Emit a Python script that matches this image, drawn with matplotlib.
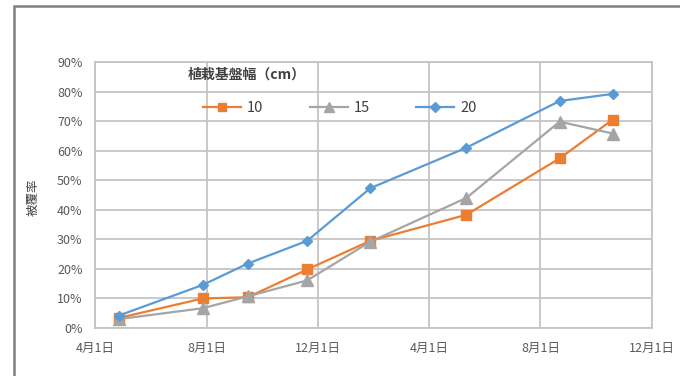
from datetime import datetime
import matplotlib
matplotlib.use('Agg')
import matplotlib.pyplot as plt
from matplotlib.patches import Rectangle
from matplotlib.ticker import FuncFormatter

plt.rcParams['font.family'] = ['Noto Sans CJK JP', 'DejaVu Sans']

# survey dates (year is arbitrary, only month/day shown)
dates = ['2016-04-27', '2016-07-28', '2016-09-15', '2016-11-19',
         '2017-01-27', '2017-05-12', '2017-08-22', '2017-10-19']
series_labels = ['10', '15', '20']
cover_10 = [3.4, 10.0, 10.4, 19.8, 29.5, 38.3, 57.4, 70.5]
cover_15 = [3.0, 6.7, 10.7, 16.1, 29.2, 44.0, 69.8, 65.8]
cover_20 = [4.2, 14.6, 21.8, 29.5, 47.3, 61.0, 76.8, 79.2]
tick_dates = ['2016-04-01', '2016-08-01', '2016-12-01',
              '2017-04-01', '2017-08-01', '2017-12-01']
tick_labels = ['4月1日', '8月1日', '12月1日', '4月1日', '8月1日', '12月1日']

x = [datetime.strptime(d, '%Y-%m-%d') for d in dates]
xt = [datetime.strptime(d, '%Y-%m-%d') for d in tick_dates]

fig = plt.figure(figsize=(6.8, 3.76), dpi=100)
ax = fig.add_axes([95 / 680, 1 - 328 / 376, 557 / 680, 266 / 376])

styles = [('#ED7D31', 's', 7), ('#A5A5A5', '^', 8), ('#5B9BD5', 'D', 5.5)]
for vals, lab, (c, m, ms) in zip([cover_10, cover_15, cover_20], series_labels, styles):
    ax.plot(x, vals, color=c, marker=m, markersize=ms, lw=1.6, label=lab, zorder=3)

ax.set_xlim(xt[0], xt[-1])
ax.set_ylim(0, 90)
ax.set_xticks(xt)
ax.set_xticklabels(tick_labels)
ax.set_yticks(range(0, 91, 10))
ax.yaxis.set_major_formatter(FuncFormatter(lambda v, p: f'{int(v)}%'))
ax.grid(True, color='#c4c4c4', lw=1.3)
ax.set_axisbelow(True)
for s in ax.spines.values():
    s.set_color('#c4c4c4')
    s.set_linewidth(1.3)
ax.tick_params(length=0, labelsize=9, labelcolor='#595959')
ax.tick_params(axis='y', pad=9)
ax.tick_params(axis='x', pad=10)

fig.text(33 / 680, 1 - 197 / 376, '被覆率', rotation=90, fontsize=9,
         color='#404040', ha='center', va='center')

fig.text(188 / 680, 1 - 75 / 376, '植栽基盤幅（cm）', fontsize=10,
         fontweight='bold', color='#404040', ha='left', va='center')
ax.legend(loc='center left', bbox_to_anchor=(203 / 680, 1 - 108 / 376),
          bbox_transform=fig.transFigure, ncol=3, frameon=False,
          borderpad=0, borderaxespad=0, handlelength=2.6, handletextpad=0.4,
          columnspacing=3.2, fontsize=10.5, labelcolor='#404040',
          markerscale=0.85)

# outer chart frame
fig.add_artist(Rectangle((14 / 680, -0.2), 1.2, 1.2 - 6 / 376,
                         transform=fig.transFigure, fill=False,
                         edgecolor='#808080', lw=1.8))

fig.savefig('out.png', dpi=100)
